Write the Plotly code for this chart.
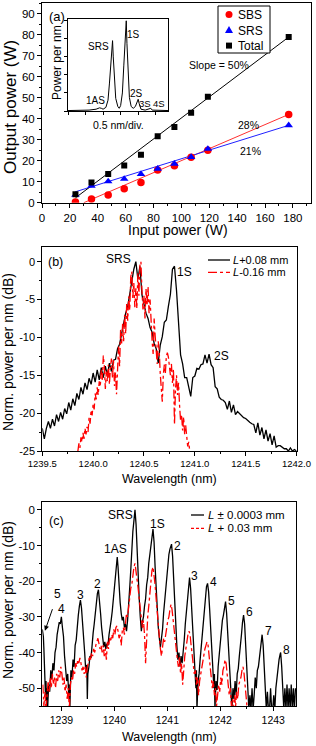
import plotly.graph_objects as go

W, H = 316, 746
FONT = "Liberation Sans, Arial, sans-serif"

# ---------------- Panel (a) data ----------------
input_power = [24, 35.5, 47.5, 59, 71, 83, 95, 107, 119, 177]
sbs_power = [0.3, 1.8, 3.7, 6.6, 9.6, 15.6, 17.6, 21.6, 24.9, 42.0]
srs_power = [3.7, 8.0, 10.1, 11.3, 13.6, 16.1, 18.5, 21.7, 25.6, 36.8]
total_power = [4.0, 9.6, 13.6, 17.7, 22.8, 31.6, 36.0, 42.8, 50.4, 78.8]
fit_total_x = [24, 177]
fit_total_y = [2.3, 78.8]
fit_sbs_x = [30, 177]
fit_sbs_y = [0.0, 42.0]
fit_srs_x = [24, 177]
fit_srs_y = [5.2, 36.8]
a_xticks = [0, 20, 40, 60, 80, 100, 120, 140, 160, 180]
a_yticks = [0, 10, 20, 30, 40, 50, 60, 70, 80, 90]

# inset spectrum (0.5 nm/div)
inset_x = [0.00, 0.30, 0.60, 0.80, 0.90, 0.95, 1.00, 1.08, 1.14, 1.18, 1.22, 1.25, 1.27, 1.29,
           1.32, 1.36, 1.42, 1.46, 1.50, 1.55, 1.59, 1.62, 1.645, 1.66, 1.68, 1.71, 1.75, 1.80,
           1.86, 1.92, 1.97, 2.00, 2.03, 2.08, 2.20, 2.33, 2.36, 2.40, 2.60, 2.70, 2.85]
inset_y = [0.005, 0.005, 0.01, 0.02, 0.035, 0.03, 0.02, 0.04, 0.12, 0.30, 0.55, 0.74, 0.78, 0.60,
           0.35, 0.14, 0.05, 0.03, 0.06, 0.20, 0.50, 0.80, 0.98, 1.00, 0.75, 0.40, 0.15, 0.05,
           0.03, 0.05, 0.10, 0.13, 0.08, 0.02, 0.01, 0.02, 0.03, 0.01, 0.005, 0.01, 0.005]
inset_xticks = [0, 0.5, 1.0, 1.5, 2.0, 2.5]

# ---------------- Panel (b) data ----------------
b_black_x = [1239.50, 1239.52, 1239.54, 1239.56, 1239.58, 1239.60, 1239.62, 1239.64, 1239.66, 1239.68,
             1239.70, 1239.72, 1239.74, 1239.76, 1239.78, 1239.80, 1239.82, 1239.84, 1239.86, 1239.88,
             1239.90, 1239.92, 1239.94, 1239.96, 1239.98, 1240.00, 1240.02, 1240.04, 1240.06, 1240.08,
             1240.10, 1240.12, 1240.14, 1240.16, 1240.18, 1240.20, 1240.22, 1240.24, 1240.26, 1240.28,
             1240.30, 1240.32, 1240.34, 1240.36, 1240.38, 1240.40, 1240.42, 1240.44, 1240.46, 1240.48,
             1240.50, 1240.52, 1240.54, 1240.56, 1240.58, 1240.60, 1240.62, 1240.64, 1240.66, 1240.68,
             1240.70, 1240.72, 1240.74, 1240.76, 1240.78, 1240.80, 1240.82, 1240.84, 1240.86, 1240.88,
             1240.90, 1240.92, 1240.94, 1240.96, 1240.98, 1241.00, 1241.02, 1241.04, 1241.06, 1241.08,
             1241.10, 1241.12, 1241.14, 1241.16, 1241.18, 1241.20, 1241.22, 1241.24, 1241.26, 1241.28,
             1241.30, 1241.32, 1241.34, 1241.36, 1241.38, 1241.40, 1241.42, 1241.44, 1241.46, 1241.48,
             1241.50, 1241.52, 1241.54, 1241.56, 1241.58, 1241.60, 1241.62, 1241.64, 1241.66, 1241.68,
             1241.70, 1241.72, 1241.74, 1241.76, 1241.78, 1241.80, 1241.82, 1241.84, 1241.86, 1241.88,
             1241.90, 1241.92, 1241.94, 1241.96, 1241.98, 1242.00]
b_black_y = [-22.0, -23.4, -22.0, -21.1, -22.0, -20.8, -21.7, -20.2, -21.1, -19.9,
             -20.8, -19.4, -20.1, -18.6, -19.6, -18.1, -19.0, -17.4, -18.2, -16.6,
             -17.5, -16.0, -16.9, -15.4, -16.2, -14.7, -15.9, -14.3, -15.6, -14.0,
             -15.3, -13.8, -15.0, -13.4, -14.5, -13.0, -12.9, -11.5, -10.9, -9.5,
             -8.6, -6.8, -5.9, -4.2, -2.9, -1.0, 0.0, -2.3, -0.6, -4.4,
             -5.6, -6.8, -7.5, -8.7, -9.3, -10.8, -11.5, -13.4, -11.0, -9.9,
             -8.0, -7.7, -5.9, -4.3, -1.0, -0.6, -3.8, -8.2, -12.3, -13.5,
             -15.3, -15.3, -16.4, -17.8, -15.3, -15.1, -14.1, -14.2, -13.6, -13.5,
             -12.3, -13.4, -12.2, -13.6, -14.0, -16.5, -16.8, -17.9, -18.2, -18.3,
             -18.6, -19.5, -18.4, -19.9, -18.9, -20.2, -19.8, -20.1, -20.3, -20.6,
             -20.7, -21.0, -21.2, -21.4, -21.5, -22.6, -21.3, -22.9, -21.9, -23.4,
             -22.2, -23.7, -22.7, -24.2, -23.0, -24.5, -24.3, -24.3, -24.5, -24.7,
             -24.7, -25.0, -24.6, -25.0, -24.8, -25.0]
b_red_x = [1239.85, 1239.86, 1239.87, 1239.88, 1239.89, 1239.90, 1239.91, 1239.92, 1239.93, 1239.94,
           1239.95, 1239.96, 1239.97, 1239.98, 1239.99, 1240.00, 1240.01, 1240.02, 1240.03, 1240.04,
           1240.05, 1240.06, 1240.07, 1240.08, 1240.09, 1240.10, 1240.11, 1240.12, 1240.13, 1240.14,
           1240.15, 1240.16, 1240.17, 1240.18, 1240.19, 1240.20, 1240.21, 1240.22, 1240.23, 1240.24,
           1240.25, 1240.26, 1240.27, 1240.28, 1240.29, 1240.30, 1240.31, 1240.32, 1240.33, 1240.34,
           1240.35, 1240.36, 1240.37, 1240.38, 1240.39, 1240.40, 1240.41, 1240.42, 1240.43, 1240.44,
           1240.45, 1240.46, 1240.47, 1240.48, 1240.49, 1240.50, 1240.51, 1240.52, 1240.53, 1240.54,
           1240.55, 1240.56, 1240.57, 1240.58, 1240.59, 1240.60, 1240.61, 1240.62, 1240.63, 1240.64,
           1240.65, 1240.66, 1240.67, 1240.68, 1240.69, 1240.70, 1240.71, 1240.72, 1240.73, 1240.74,
           1240.75, 1240.76, 1240.77, 1240.78, 1240.79, 1240.80, 1240.81, 1240.82, 1240.83, 1240.84,
           1240.85, 1240.86, 1240.87, 1240.88, 1240.89, 1240.90, 1240.91, 1240.92, 1240.93, 1240.94,
           1240.95]
b_red_y = [-25.0, -24.0, -24.6, -23.2, -23.8, -22.6, -23.4, -22.0, -22.8, -21.8,
           -22.5, -20.6, -21.4, -19.6, -20.3, -18.8, -19.5, -17.4, -18.2, -16.6,
           -17.6, -15.8, -16.5, -14.2, -15.6, -12.4, -13.8, -16.8, -14.5, -15.8,
           -13.6, -16.2, -14.0, -12.8, -15.3, -13.0, -16.4, -14.6, -17.5, -13.5,
           -11.2, -13.8, -9.0, -10.8, -8.2, -10.5, -7.0, -9.5, -5.6, -7.8,
           -4.6, -6.4, -2.0, -1.3, -4.8, -2.8, -6.0, -3.5, -6.2, -1.5,
           -4.5, -0.5, 0.0, -3.8, -6.3, -4.5, -7.5, -3.6, -5.8, -3.3,
           -6.8, -5.0, -8.6, -10.5, -12.2, -7.5, -9.8, -11.5, -13.5, -10.5,
           -11.8, -14.8, -17.0, -18.5, -15.0, -13.6, -14.8, -12.5, -12.0, -12.6,
           -13.8, -15.0, -13.5, -16.0, -14.2, -21.5, -16.8, -15.0, -17.6, -16.0,
           -19.0, -21.0, -20.2, -22.3, -20.5, -22.8, -21.6, -23.5, -24.4, -23.8,
           -25.0]
b_xticks = [1239.5, 1240.0, 1240.5, 1241.0, 1241.5, 1242.0]
b_xticktext = ["1239.5", "1240.0", "1240.5", "1241.0", "1241.5", "1242.0"]
b_yticks = [-25, -20, -15, -10, -5, 0]
b_yticktext = ["-25", "-20", "-15", "-10", "-5", "0"]

# ---------------- Panel (c) data ----------------
c_black_x = [1238.64, 1238.66, 1238.67, 1238.68, 1238.69, 1238.70, 1238.71, 1238.72, 1238.73, 1238.74,
             1238.76, 1238.78, 1238.80, 1238.82, 1238.84, 1238.86, 1238.88, 1238.90, 1238.92, 1238.94,
             1238.96, 1238.98, 1239.00, 1239.02, 1239.04, 1239.06, 1239.08, 1239.10, 1239.12, 1239.14,
             1239.15, 1239.16, 1239.17, 1239.18, 1239.20, 1239.22, 1239.24, 1239.26, 1239.28, 1239.30,
             1239.32, 1239.34, 1239.36, 1239.38, 1239.40, 1239.42, 1239.44, 1239.46, 1239.48, 1239.49,
             1239.50, 1239.52, 1239.54, 1239.56, 1239.58, 1239.60, 1239.62, 1239.64, 1239.66, 1239.68,
             1239.70, 1239.72, 1239.74, 1239.76, 1239.78, 1239.80, 1239.82, 1239.84, 1239.86, 1239.88,
             1239.90, 1239.92, 1239.94, 1239.96, 1239.98, 1240.00, 1240.02, 1240.04, 1240.055, 1240.07,
             1240.09, 1240.11, 1240.13, 1240.15, 1240.17, 1240.19, 1240.21, 1240.23, 1240.25, 1240.27,
             1240.29, 1240.31, 1240.33, 1240.35, 1240.37, 1240.39, 1240.41, 1240.43, 1240.45, 1240.47,
             1240.49, 1240.51, 1240.53, 1240.55, 1240.57, 1240.59, 1240.61, 1240.63, 1240.65, 1240.67,
             1240.70, 1240.73, 1240.75, 1240.77, 1240.79, 1240.81, 1240.83, 1240.85, 1240.87, 1240.89,
             1240.91, 1240.93, 1240.95, 1240.97, 1240.99, 1241.01, 1241.03, 1241.05, 1241.08, 1241.10,
             1241.12, 1241.14, 1241.16, 1241.18, 1241.20, 1241.22, 1241.24, 1241.26, 1241.28, 1241.30,
             1241.32, 1241.34, 1241.36, 1241.38, 1241.40, 1241.42, 1241.44, 1241.46, 1241.48, 1241.50,
             1241.52, 1241.54, 1241.55, 1241.56, 1241.58, 1241.60, 1241.62, 1241.64, 1241.66, 1241.68,
             1241.70, 1241.72, 1241.74, 1241.76, 1241.78, 1241.80, 1241.82, 1241.84, 1241.86, 1241.88,
             1241.89, 1241.90, 1241.92, 1241.94, 1241.96, 1241.98, 1242.00, 1242.02, 1242.04, 1242.06,
             1242.08, 1242.10, 1242.12, 1242.14, 1242.16, 1242.18, 1242.20, 1242.22, 1242.24, 1242.26,
             1242.28, 1242.30, 1242.32, 1242.34, 1242.36, 1242.38, 1242.40, 1242.42, 1242.44, 1242.46,
             1242.48, 1242.50, 1242.52, 1242.54, 1242.56, 1242.58, 1242.60, 1242.62, 1242.64, 1242.66,
             1242.68, 1242.70, 1242.72, 1242.74, 1242.76, 1242.78, 1242.79, 1242.81, 1242.83, 1242.85,
             1242.87, 1242.89, 1242.91, 1242.93, 1242.95, 1242.97, 1242.99, 1243.01, 1243.03, 1243.05,
             1243.07, 1243.09, 1243.11, 1243.13, 1243.14, 1243.16, 1243.18, 1243.20, 1243.22, 1243.24,
             1243.26, 1243.28, 1243.30, 1243.32, 1243.34, 1243.36, 1243.38, 1243.40, 1243.42]
c_black_y = [-33.5, -35.5, -39.0, -44.0, -47.0, -52.0, -48.0, -56.0, -50.0, -56.0,
             -49.0, -51.0, -45.0, -47.5, -43.0, -45.0, -40.0, -38.5, -35.0, -33.5,
             -31.5, -32.0, -30.0, -33.0, -35.5, -41.0, -45.0, -48.0, -46.0, -52.0,
             -49.0, -56.0, -50.0, -45.0, -47.0, -42.0, -44.0, -38.0, -36.5, -32.0,
             -29.5, -27.0, -25.3, -27.5, -31.0, -36.0, -40.0, -45.0, -43.5, -53.0,
             -46.0, -44.0, -41.0, -41.5, -37.0, -34.5, -32.0, -28.5, -26.0, -23.5,
             -22.4, -25.0, -29.0, -33.0, -37.0, -38.5, -37.0, -39.0, -37.5, -38.0,
             -35.0, -33.5, -31.0, -28.5, -25.0, -22.0, -19.0, -15.5, -13.2, -16.0,
             -22.0, -26.0, -29.0, -31.0, -30.0, -33.0, -32.0, -34.0, -31.0, -27.5,
             -22.0, -17.0, -10.5, -6.0, -3.0, 0.0, -4.0, -12.0, -19.0, -25.0,
             -30.0, -34.0, -31.5, -30.0, -27.0, -25.0, -21.0, -19.0, -15.0, -13.0,
             -9.0, -5.4, -9.0, -16.0, -23.0, -28.0, -33.0, -36.0, -38.5, -36.0,
             -33.5, -29.0, -25.5, -21.0, -17.5, -14.0, -12.5, -11.0, -9.6, -13.0,
             -20.0, -28.0, -33.0, -38.0, -42.0, -40.0, -44.0, -41.0, -43.0, -38.0,
             -36.5, -32.0, -28.5, -24.0, -21.5, -19.0, -22.0, -28.0, -34.0, -40.0,
             -44.0, -50.0, -45.0, -56.0, -48.0, -46.0, -42.0, -38.5, -34.0, -30.5,
             -27.0, -24.0, -21.5, -20.6, -23.0, -28.0, -34.0, -40.0, -45.0, -50.0,
             -46.0, -56.0, -48.0, -50.5, -44.0, -40.5, -36.0, -33.5, -31.0, -29.5,
             -27.0, -25.7, -29.0, -35.0, -40.0, -45.0, -50.0, -56.0, -50.0, -53.0,
             -48.0, -52.0, -46.0, -44.5, -41.0, -38.5, -35.0, -31.5, -29.5, -32.0,
             -37.0, -43.0, -49.0, -56.0, -52.0, -56.0, -50.0, -56.0, -52.0, -47.0,
             -50.0, -45.0, -44.0, -41.0, -38.5, -36.0, -35.0, -38.0, -44.0, -50.0,
             -56.0, -51.0, -56.0, -56.0, -50.0, -56.0, -56.0, -52.0, -56.0, -50.0,
             -47.0, -44.5, -42.0, -40.5, -40.0, -44.0, -50.0, -56.0, -50.0, -56.0,
             -49.0, -56.0, -50.0, -56.0, -49.0, -56.0, -50.0, -56.0, -50.0]
c_red_x = [1238.65, 1238.67, 1238.69, 1238.71, 1238.73, 1238.75, 1238.77, 1238.79, 1238.81, 1238.83,
           1238.85, 1238.87, 1238.89, 1238.91, 1238.93, 1238.95, 1238.97, 1238.99, 1239.01, 1239.03,
           1239.05, 1239.07, 1239.09, 1239.11, 1239.13, 1239.15, 1239.17, 1239.19, 1239.21, 1239.23,
           1239.25, 1239.27, 1239.29, 1239.31, 1239.33, 1239.35, 1239.37, 1239.39, 1239.41, 1239.43,
           1239.45, 1239.47, 1239.49, 1239.51, 1239.53, 1239.55, 1239.57, 1239.59, 1239.61, 1239.63,
           1239.65, 1239.67, 1239.69, 1239.71, 1239.73, 1239.75, 1239.77, 1239.79, 1239.81, 1239.83,
           1239.85, 1239.87, 1239.89, 1239.91, 1239.93, 1239.95, 1239.97, 1239.99, 1240.01, 1240.03,
           1240.05, 1240.07, 1240.09, 1240.11, 1240.13, 1240.15, 1240.17, 1240.19, 1240.21, 1240.23,
           1240.25, 1240.27, 1240.29, 1240.31, 1240.33, 1240.35, 1240.37, 1240.39, 1240.41, 1240.43,
           1240.45, 1240.47, 1240.49, 1240.51, 1240.53, 1240.55, 1240.57, 1240.59, 1240.61, 1240.63,
           1240.65, 1240.67, 1240.69, 1240.71, 1240.73, 1240.75, 1240.77, 1240.79, 1240.81, 1240.83,
           1240.85, 1240.87, 1240.89, 1240.91, 1240.93, 1240.95, 1240.97, 1240.99, 1241.01, 1241.03,
           1241.05, 1241.07, 1241.09, 1241.11, 1241.13, 1241.15, 1241.17, 1241.19, 1241.21, 1241.23,
           1241.25, 1241.27, 1241.29, 1241.31, 1241.33, 1241.35, 1241.37, 1241.39, 1241.41, 1241.43,
           1241.45, 1241.47, 1241.49, 1241.51, 1241.53, 1241.55, 1241.57, 1241.59, 1241.61, 1241.63,
           1241.65, 1241.67, 1241.69, 1241.71, 1241.73, 1241.75, 1241.77, 1241.79, 1241.81, 1241.83,
           1241.85, 1241.87, 1241.89, 1241.91, 1241.93, 1241.95, 1241.97, 1241.99, 1242.01, 1242.03,
           1242.05, 1242.07, 1242.09, 1242.11, 1242.13, 1242.15, 1242.17, 1242.19, 1242.21, 1242.23,
           1242.25, 1242.27, 1242.29, 1242.31, 1242.33, 1242.35, 1242.37, 1242.39, 1242.41, 1242.43,
           1242.45, 1242.47, 1242.49, 1242.51]
c_red_y = [-49, -55, -51, -56, -52, -48, -51, -47, -50, -46,
           -49, -47, -50, -46, -48, -45, -47, -44, -46, -49,
           -47, -51, -49, -53, -50, -56, -49, -47, -48, -45,
           -46, -43, -44, -42, -43, -41.5, -43, -45, -44, -46,
           -44, -47, -44, -43, -41, -42, -40, -41, -39, -40,
           -38, -37, -36, -37.5, -39, -38, -40, -38, -41, -39,
           -42, -37, -39, -36, -37, -35, -36, -33.5, -35, -33,
           -32.5, -34, -36, -35, -38, -34, -33, -35, -31, -29,
           -30, -27, -25, -22, -21, -18, -16, -15, -17, -19,
           -22, -25, -28, -31, -33, -31, -35, -43, -33, -30,
           -27, -23, -20, -17, -16, -18, -21, -25, -29, -33,
           -36, -39, -41, -38, -36, -37, -34, -33, -31, -30,
           -28, -26.5, -28, -31, -35, -38, -40, -42, -44, -41,
           -46, -43, -49, -44, -41, -39, -36, -35, -34, -35,
           -38, -41, -44, -46, -45, -49, -47, -52, -48, -46,
           -44, -42, -41, -39, -38, -37, -38, -41, -44, -47,
           -50, -48, -52, -50, -55, -52, -49, -51, -47, -49,
           -45, -44, -42, -43, -46, -49, -52, -50, -55, -53,
           -56, -52, -55, -51, -53, -49, -48, -47, -45, -44,
           -46, -49, -53, -56]
c_xticks = [1239, 1240, 1241, 1242, 1243]
c_yticks = [-50, -40, -30, -20, -10, 0]
c_yticktext = ["-50", "-40", "-30", "-20", "-10", "0"]

# legend labels
a_legend_names = ["SBS", "SRS", "Total"]
b_legend_names = ["<i>L</i>+0.08 mm", "<i>L</i>-0.16 mm"]
c_legend_names = ["<i>L</i> \u00b1 0.0003 mm", "<i>L</i> + 0.03 mm"]


def X(px):
    return px / W


def Y(py):
    return 1 - py / H


def axis(dom, rng, fs=11, **kw):
    d = dict(domain=dom, range=rng, showline=True, linecolor="black", linewidth=1,
             mirror=True, ticks="outside", ticklen=4, tickwidth=1, tickcolor="black",
             showgrid=False, zeroline=False, fixedrange=True, automargin=False,
             tickfont=dict(family=FONT, size=fs, color="black"))
    d.update(kw)
    return d


def mirror_axis(over, anchor, dom, rng, side, tickvals, minor_dtick, minor_tick0=0):
    return dict(overlaying=over, anchor=anchor, domain=dom, range=rng, side=side,
                showline=False, ticks="inside", ticklen=4, tickwidth=1, tickcolor="black",
                tickvals=tickvals, showticklabels=False, showgrid=False, zeroline=False,
                fixedrange=True, automargin=False,
                minor=dict(ticks="inside", ticklen=2, tickcolor="black", dtick=minor_dtick,
                           tick0=minor_tick0, showgrid=False))


fig = go.Figure()

# ---- panel (a) ----
fig.add_trace(go.Scatter(x=fit_sbs_x, y=fit_sbs_y, mode="lines", line=dict(color="#ff3030", width=1),
                         showlegend=False, xaxis="x", yaxis="y"))
fig.add_trace(go.Scatter(x=fit_srs_x, y=fit_srs_y, mode="lines", line=dict(color="#2020ff", width=1),
                         showlegend=False, xaxis="x", yaxis="y"))
fig.add_trace(go.Scatter(x=fit_total_x, y=fit_total_y, mode="lines", line=dict(color="black", width=1),
                         showlegend=False, xaxis="x", yaxis="y"))
fig.add_trace(go.Scatter(x=input_power, y=sbs_power, mode="markers", name=a_legend_names[0],
                         marker=dict(symbol="circle", color="red", size=7.5),
                         xaxis="x", yaxis="y", showlegend=False))
fig.add_trace(go.Scatter(x=input_power, y=srs_power, mode="markers", name=a_legend_names[1],
                         marker=dict(symbol="triangle-up", color="blue", size=7.5),
                         xaxis="x", yaxis="y", showlegend=False))
fig.add_trace(go.Scatter(x=input_power, y=total_power, mode="markers", name=a_legend_names[2],
                         marker=dict(symbol="square", color="black", size=6),
                         xaxis="x", yaxis="y", showlegend=False))
# inset
fig.add_trace(go.Scatter(x=inset_x, y=inset_y, mode="lines", line=dict(color="black", width=1),
                         showlegend=False, xaxis="x4", yaxis="y4"))

# ---- panel (b) ----
fig.add_trace(go.Scatter(x=b_black_x, y=b_black_y, mode="lines", name=b_legend_names[0],
                         line=dict(color="black", width=1.3), xaxis="x2", yaxis="y2", showlegend=False))
fig.add_trace(go.Scatter(x=b_red_x, y=b_red_y, mode="lines", name=b_legend_names[1],
                         line=dict(color="red", width=1.3, dash="dashdot"), xaxis="x2", yaxis="y2",
                         showlegend=False))

# ---- panel (c) ----
fig.add_trace(go.Scatter(x=c_black_x, y=c_black_y, mode="lines", name=c_legend_names[0],
                         line=dict(color="black", width=1.3), xaxis="x3", yaxis="y3", showlegend=False))
fig.add_trace(go.Scatter(x=c_red_x, y=c_red_y, mode="lines", name=c_legend_names[1],
                         line=dict(color="red", width=1.3, dash="dashdot"), xaxis="x3", yaxis="y3",
                         showlegend=False))

# domains (pixel frames)
a_dom_x = [X(42), X(311)]
a_dom_y = [Y(202.7), Y(3)]
b_dom_x = [X(42.3), X(296.5)]
b_dom_y = [Y(451), Y(247.3)]
c_dom_x = [X(42.3), X(296)]
c_dom_y = [Y(706), Y(501.7)]
i_dom_x = [X(68), X(168)]
i_dom_y = [Y(111), Y(19)]
a_xr, a_yr = [0, 193], [0, 95]
b_xr, b_yr = [1239.5, 1242.0], [-25, 1.9]
c_xr, c_yr = [1238.64, 1243.43], [-55, 2.3]

minor_style = dict(ticks="outside", ticklen=2, tickcolor="black", showgrid=False)

# ---- compact legends drawn as layout decorations ----
shapes = []
ann = []


def txt(text, x, y, xref, yref, size=12, **kw):
    d = dict(text=text, x=x, y=y, xref=xref, yref=yref, showarrow=False,
             xanchor="center", yanchor="middle",
             font=dict(family=FONT, size=size, color="black"))
    d.update(kw)
    ann.append(d)


# legend (a): rows at 14.4, 30.0, 45.6 px (line spacing 1.3 x 12 px)
rows_a = [14.4, 30.0, 45.6]
shapes.append(dict(type="rect", xref="paper", yref="paper", x0=X(218), x1=X(270), y0=Y(53), y1=Y(6),
                   line=dict(color="black", width=1), fillcolor="white", layer="above"))
shapes.append(dict(type="circle", xref="paper", yref="paper", x0=X(225.5), x1=X(232.5),
                   y0=Y(rows_a[0] + 3.5), y1=Y(rows_a[0] - 3.5), fillcolor="red", line=dict(width=0),
                   layer="above"))
shapes.append(dict(type="path", xref="paper", yref="paper",
                   path="M %.5f,%.5f L %.5f,%.5f L %.5f,%.5f Z" % (
                       X(225), Y(rows_a[1] + 3), X(233), Y(rows_a[1] + 3), X(229), Y(rows_a[1] - 4)),
                   fillcolor="blue", line=dict(width=0), layer="above"))
shapes.append(dict(type="rect", xref="paper", yref="paper", x0=X(226), x1=X(232),
                   y0=Y(rows_a[2] + 3), y1=Y(rows_a[2] - 3), fillcolor="black", line=dict(width=0),
                   layer="above"))
txt("<br>".join(a_legend_names), X(236), Y(rows_a[1]), "paper", "paper", size=12,
    xanchor="left", align="left")

# legend (b)
shapes.append(dict(type="line", xref="paper", yref="paper", x0=X(208), x1=X(230), y0=Y(260), y1=Y(260),
                   line=dict(color="black", width=1.3)))
shapes.append(dict(type="line", xref="paper", yref="paper", x0=X(208), x1=X(230), y0=Y(272.3), y1=Y(272.3),
                   line=dict(color="red", width=1.3, dash="dashdot")))
for name, py in zip(b_legend_names, [260, 272.3]):
    txt(name, X(231), Y(py), "paper", "paper", size=11, xanchor="left")

# legend (c)
shapes.append(dict(type="line", xref="paper", yref="paper", x0=X(191), x1=X(204), y0=Y(515), y1=Y(515),
                   line=dict(color="black", width=1.3)))
shapes.append(dict(type="line", xref="paper", yref="paper", x0=X(191), x1=X(204), y0=Y(528.3), y1=Y(528.3),
                   line=dict(color="red", width=1.3, dash="3px,2px")))
for name, py in zip(c_legend_names, [515, 528.3]):
    txt(name, X(205.5), Y(py), "paper", "paper", size=11.5, xanchor="left")

fig.update_layout(
    width=W, height=H, margin=dict(l=0, r=0, t=0, b=0, autoexpand=False),
    paper_bgcolor="white", plot_bgcolor="white", showlegend=False,
    font=dict(family=FONT, size=12, color="black"),
    xaxis=axis(a_dom_x, a_xr, fs=11.5, anchor="y", tickvals=a_xticks,
               minor=dict(dtick=10, **minor_style)),
    yaxis=axis(a_dom_y, a_yr, fs=11.5, anchor="x", tickvals=a_yticks,
               minor=dict(dtick=5, **minor_style)),
    xaxis2=axis(b_dom_x, b_xr, fs=9.5, anchor="y2", tickvals=b_xticks, ticktext=b_xticktext,
                minor=dict(dtick=0.25, tick0=1239.5, **minor_style)),
    yaxis2=axis(b_dom_y, b_yr, fs=11, anchor="x2", tickvals=b_yticks, ticktext=b_yticktext,
                minor=dict(dtick=2.5, tick0=0, **minor_style)),
    xaxis3=axis(c_dom_x, c_xr, fs=10.5, anchor="y3", tickvals=c_xticks,
                minor=dict(dtick=0.5, tick0=1239, **minor_style)),
    yaxis3=axis(c_dom_y, c_yr, fs=11.5, anchor="x3", tickvals=c_yticks, ticktext=c_yticktext,
                minor=dict(dtick=5, tick0=0, **minor_style)),
    xaxis4=axis(i_dom_x, [0, 2.85], anchor="y4", tickvals=inset_xticks, showticklabels=False, ticklen=3),
    yaxis4=axis(i_dom_y, [0, 1.02], anchor="x4", dtick=0.2, showticklabels=False, ticklen=3),
    # inward ticks on the top / right frames
    xaxis5=mirror_axis("x", "y", a_dom_x, a_xr, "top", a_xticks, 10),
    yaxis5=mirror_axis("y", "x", a_dom_y, a_yr, "right", a_yticks, 5),
    xaxis6=mirror_axis("x2", "y2", b_dom_x, b_xr, "top", b_xticks, 0.25, 1239.5),
    yaxis6=mirror_axis("y2", "x2", b_dom_y, b_yr, "right", b_yticks, 2.5),
    xaxis7=mirror_axis("x3", "y3", c_dom_x, c_xr, "top", c_xticks, 0.5, 1239),
    yaxis7=mirror_axis("y3", "x3", c_dom_y, c_yr, "right", c_yticks, 5),
)

# axis titles (paper coords)
txt("Output power (W)", X(11), Y(107), "paper", "paper", size=17, textangle=-90)
txt("Input power (W)", X(178), Y(230), "paper", "paper", size=14)
txt("Norm. power per nm (dB)", X(8), Y(352), "paper", "paper", size=14, textangle=-90)
txt("Wavelength (nm)", X(169), Y(479), "paper", "paper", size=12.5)
txt("Norm. power per nm (dB)", X(8), Y(600), "paper", "paper", size=14, textangle=-90)
txt("Wavelength (nm)", X(169), Y(737), "paper", "paper", size=12.5)
txt("Power per nm", X(57), Y(63), "paper", "paper", size=12, textangle=-90)
txt("0.5 nm/div.", X(118), Y(125), "paper", "paper", size=10.5)

# panel (a) labels
txt("(a)", 10.8, 88.7, "x", "y", size=13)
txt("Slope = 50%", 127, 65.5, "x", "y", size=10.5)
txt("28%", 148, 36.9, "x", "y", size=10.5)
txt("21%", 149.6, 24.8, "x", "y", size=10.5)
# inset labels
txt("SRS", 0.86, 0.71, "x4", "y4", size=10)
txt("1S", 1.88, 0.85, "x4", "y4", size=10)
txt("1AS", 0.78, 0.12, "x4", "y4", size=10)
txt("2S", 1.94, 0.19, "x4", "y4", size=10)
txt("3S", 2.19, 0.08, "x4", "y4", size=9.5)
txt("4S", 2.58, 0.08, "x4", "y4", size=9.5)

# panel (b) labels
txt("(b)", 1239.625, 0.0, "x2", "y2", size=12.5)
txt("SRS", 1240.247, 0.3, "x2", "y2")
txt("1S", 1240.896, -1.3, "x2", "y2")
txt("2S", 1241.263, -12.5, "x2", "y2")

# panel (c) labels
txt("(c)", 1238.906, -3.1, "x3", "y3", size=12.5)
txt("SRS", 1240.11, -1.4, "x3", "y3")
txt("1S", 1240.81, -4.0, "x3", "y3")
txt("2", 1241.19, -10.1, "x3", "y3")
txt("3", 1241.52, -18.5, "x3", "y3")
txt("4", 1241.875, -20.1, "x3", "y3")
txt("5", 1242.21, -25.5, "x3", "y3")
txt("6", 1242.55, -28.5, "x3", "y3")
txt("7", 1242.906, -33.9, "x3", "y3")
txt("8", 1243.25, -39.2, "x3", "y3")
txt("1AS", 1240.02, -11.0, "x3", "y3")
txt("2", 1239.675, -20.8, "x3", "y3")
txt("3", 1239.36, -23.8, "x3", "y3")
txt("4", 1239.0, -27.8, "x3", "y3")
ann.append(dict(text="5", x=1238.69, y=-33.9, xref="x3", yref="y3", ax=1238.93, ay=-23.6,
                axref="x3", ayref="y3", showarrow=True, arrowhead=2, arrowsize=1, arrowwidth=1,
                arrowcolor="black", standoff=0, startstandoff=7,
                font=dict(family=FONT, size=12, color="black")))

fig.update_layout(annotations=ann, shapes=shapes)
fig.write_html("out.html", config={"displayModeBar": False, "staticPlot": True},
               post_script="document.body.style.margin='0px';")
